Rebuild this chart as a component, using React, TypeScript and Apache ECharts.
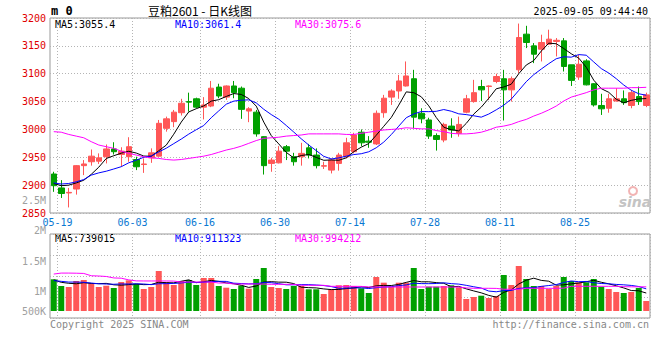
import React, { useEffect, useRef } from 'react';
import * as echarts from 'echarts';

const dates = [
  '05-16', '05-19', '05-20', '05-21', '05-22', '05-23', '05-26', '05-27', '05-28', '05-29', '05-30',
  '06-03', '06-04', '06-05', '06-06', '06-09', '06-10', '06-11', '06-12', '06-13',
  '06-16', '06-17', '06-18', '06-19', '06-20', '06-23', '06-24', '06-25', '06-26', '06-27',
  '06-30', '07-01', '07-02', '07-03', '07-04', '07-07', '07-08', '07-09', '07-10', '07-11',
  '07-14', '07-15', '07-16', '07-17', '07-18', '07-21', '07-22', '07-23', '07-24', '07-25',
  '07-28', '07-29', '07-30', '07-31', '08-01', '08-04', '08-05', '08-06', '08-07', '08-08',
  '08-11', '08-12', '08-13', '08-14', '08-15', '08-18', '08-19', '08-20', '08-21', '08-22',
  '08-25', '08-26', '08-27', '08-28', '08-29', '09-01', '09-02', '09-03', '09-04', '09-05',
];
const tickDates = ['05-19', '06-03', '06-16', '06-30', '07-14', '07-28', '08-11', '08-25'];

const opens = [
  2920, 2895, 2886, 2893, 2935, 2942, 2943, 2951, 2965, 2955,
  2951, 2946, 2937, 2949, 2952, 3002, 3014, 3030, 3050, 3055,
  3040, 3042, 3076, 3058, 3078, 3074, 3033, 3031, 2987, 2939,
  2940, 2969, 2951, 2951, 2967, 2954, 2934, 2927, 2939, 2951,
  2960, 2995, 2979, 2974, 3030, 3058, 3069, 3078, 3091, 3029,
  3017, 2989, 2981, 3006, 2993, 3031, 3050, 3077, 3077, 3086,
  3091, 3071, 3107, 3171, 3150, 3144, 3153, 3158, 3159, 3116,
  3094, 3123, 3082, 3043, 3038, 3051, 3055, 3043, 3059, 3043,
];
const closes = [
  2899, 2885, 2887, 2935, 2938, 2952, 2949, 2965, 2960, 2961,
  2969, 2933, 2938, 2958, 3011, 3019, 3031, 3047, 3049, 3040,
  3044, 3074, 3060, 3078, 3066, 3036, 3037, 2992, 2935, 2945,
  2961, 2961, 2942, 2957, 2954, 2935, 2935, 2945, 2954, 2976,
  2990, 2976, 2977, 3029, 3056, 3069, 3087, 3096, 3022, 3019,
  2988, 2982, 3009, 2999, 3009, 3055, 3066, 3071, 3078, 3095,
  3071, 3091, 3165, 3156, 3135, 3156, 3162, 3160, 3113, 3088,
  3117, 3080, 3044, 3037, 3055, 3055, 3048, 3066, 3050, 3062,
];
const lows = [
  2888, 2877, 2860, 2883, 2918, 2935, 2938, 2939, 2955, 2933,
  2942, 2927, 2922, 2940, 2951, 2996, 3004, 3025, 3032, 3038,
  3018, 3040, 3056, 3053, 3056, 3019, 3013, 2987, 2919, 2924,
  2939, 2945, 2935, 2935, 2948, 2930, 2929, 2921, 2926, 2948,
  2957, 2970, 2967, 2972, 3021, 3044, 3055, 3077, 3002, 3011,
  2983, 2962, 2977, 2985, 2987, 3029, 3048, 3051, 3053, 3083,
  3016, 3050, 3101, 3146, 3119, 3122, 3152, 3131, 3104, 3078,
  3089, 3079, 3041, 3026, 3030, 3050, 3044, 3038, 3044, 3040,
];
const highs = [
  2924, 2909, 2895, 2936, 2945, 2964, 2957, 2973, 2977, 2968,
  2986, 2951, 2948, 2966, 3017, 3023, 3035, 3055, 3066, 3057,
  3058, 3087, 3082, 3079, 3087, 3077, 3040, 3035, 2988, 2949,
  2970, 2972, 2958, 2976, 2974, 2966, 2942, 2948, 2958, 2985,
  2994, 3000, 2988, 3034, 3062, 3072, 3098, 3122, 3107, 3038,
  3021, 2993, 3012, 3020, 3023, 3062, 3089, 3089, 3079, 3100,
  3107, 3095, 3190, 3186, 3155, 3170, 3179, 3164, 3164, 3116,
  3134, 3126, 3083, 3064, 3064, 3074, 3070, 3071, 3077, 3066,
];

const ma5 = [
  2903, 2899, 2900, 2904, 2908.8, 2919.4, 2932.2, 2947.8, 2952.8, 2957.4,
  2960.8, 2957.6, 2952.2, 2951.8, 2961.8, 2971.8, 2991.4, 3013.2, 3031.4, 3037.2,
  3042.2, 3050.8, 3053.4, 3059.2, 3064.4, 3062.8, 3055.4, 3041.8, 3013.2, 2989.0,
  2974.0, 2958.8, 2948.8, 2953.2, 2955.0, 2949.8, 2944.6, 2945.2, 2944.6, 2949.0,
  2960.0, 2968.2, 2974.6, 2989.6, 3005.6, 3021.4, 3043.6, 3067.4, 3066.0, 3058.6,
  3042.4, 3021.4, 3004.0, 2999.4, 2997.4, 3010.8, 3027.6, 3040.0, 3055.8, 3073.0,
  3076.2, 3081.2, 3100.0, 3115.6, 3123.6, 3140.6, 3154.8, 3153.8, 3145.2, 3135.8,
  3128.0, 3111.6, 3088.4, 3073.2, 3066.6, 3054.2, 3047.8, 3052.2, 3054.8, 3055.4,
];
const ma10 = [
  2904, 2902, 2903, 2906, 2910, 2918, 2922, 2925, 2929, 2933.1,
  2940.1, 2944.9, 2950.0, 2952.3, 2959.6, 2966.3, 2974.5, 2982.7, 2991.6, 2999.5,
  3007.0, 3021.1, 3033.3, 3045.3, 3050.8, 3052.5, 3053.1, 3047.6, 3036.2, 3026.7,
  3018.4, 3007.1, 2995.3, 2983.2, 2972.0, 2961.9, 2951.7, 2947.0, 2948.9, 2952.0,
  2954.9, 2956.4, 2959.9, 2967.1, 2977.3, 2990.7, 3005.9, 3021.0, 3027.8, 3032.1,
  3031.9, 3032.5, 3035.7, 3032.7, 3028.0, 3026.6, 3024.5, 3022.0, 3027.6, 3035.2,
  3043.5, 3054.4, 3070.0, 3085.7, 3098.3, 3108.4, 3118.0, 3126.9, 3130.4, 3129.7,
  3134.3, 3133.2, 3121.1, 3109.2, 3101.2, 3091.1, 3079.7, 3070.3, 3064.0, 3061.4,
];
const ma30 = [
  2996, 2995, 2991, 2988, 2985, 2978, 2972, 2969, 2966, 2961,
  2957, 2954, 2951, 2949, 2948, 2946, 2945, 2946, 2948, 2950,
  2952, 2955, 2959, 2963, 2966, 2970, 2975, 2980, 2984, 2985,
  2986, 2988, 2989, 2990, 2992, 2992, 2992, 2992, 2992, 2991,
  2991, 2993, 2995, 2997, 2999, 3000, 3001, 3003, 3002, 3001,
  3001, 2998, 2996, 2993, 2992, 2992, 2993, 2995, 2999, 3004,
  3006, 3009, 3014, 3018, 3024, 3029, 3035, 3042, 3051, 3058,
  3062, 3066, 3071, 3074, 3074, 3074, 3074, 3075, 3075, 3075.6,
];

// volumes in thousands
const volumesK = [
  1304, 1029, 988, 1235, 1276, 1140, 988, 1041, 947, 1193,
  1263, 1111, 905, 988, 1646, 1181, 1070, 1235, 1276, 1070,
  1358, 1358, 1029, 959, 905, 1041, 918, 1317, 1770, 988,
  947, 905, 1029, 1029, 893, 893, 700, 893, 1058, 1070,
  1029, 934, 741, 1399, 1165, 1000, 1165, 1165, 1770, 905,
  1000, 1000, 1029, 1058, 975, 494, 576, 630, 535, 617,
  1481, 1070, 1852, 1317, 1029, 1029, 905, 1029, 1399, 1235,
  1181, 1181, 1317, 1000, 905, 782, 741, 782, 947, 412,
];
const volMa5K = [
  1280, 1180, 1140, 1120, 1166, 1134, 1125, 1136, 1078, 1062,
  1086, 1111, 1084, 1092, 1183, 1166, 1158, 1224, 1282, 1166,
  1202, 1259, 1218, 1155, 1122, 1058, 970, 1028, 1190, 1207,
  1188, 1185, 1128, 980, 961, 950, 909, 882, 887, 923,
  950, 997, 966, 1035, 1054, 1048, 1094, 1179, 1253, 1201,
  1201, 1168, 1141, 998, 1012, 911, 826, 747, 642, 570,
  768, 867, 1111, 1267, 1350, 1259, 1226, 1062, 1078, 1119,
  1150, 1205, 1263, 1183, 1117, 1037, 949, 842, 831, 739,
];
const volMa10K = [
  1250, 1220, 1190, 1190, 1180, 1150, 1120, 1110, 1100, 1114,
  1110, 1118, 1110, 1085, 1122, 1126, 1135, 1154, 1187, 1175,
  1184, 1209, 1221, 1218, 1144, 1130, 1115, 1123, 1173, 1164,
  1123, 1078, 1078, 1085, 1084, 1069, 1047, 1005, 934, 942,
  950, 953, 924, 961, 988, 999, 1045, 1073, 1144, 1127,
  1124, 1131, 1160, 1126, 1107, 1056, 997, 944, 820, 791,
  840, 847, 929, 955, 960, 1014, 1047, 1086, 1173, 1235,
  1205, 1216, 1162, 1131, 1118, 1093, 1077, 1052, 1007, 911,
];
const volMa30K = [
  1520, 1560, 1560, 1555, 1545, 1450, 1440, 1420, 1360, 1350,
  1280, 1240, 1236, 1236, 1235, 1235, 1230, 1195, 1193, 1193,
  1192, 1190, 1152, 1150, 1112, 1111, 1110, 1110, 1108, 1098,
  1098, 1097, 1096, 1058, 1058, 1057, 1056, 1016, 1016, 1015,
  1015, 1012, 990, 988, 988, 988, 988, 988, 988, 988,
  988, 988, 988, 987, 986, 950, 934, 934, 934, 930,
  895, 893, 893, 934, 934, 934, 934, 934, 940, 1016,
  1016, 1016, 1016, 1016, 1016, 1016, 1000, 995, 994, 994,
];

const priceTicks = [2850, 3200, 50];
const volTickValues = [500, 1000, 1500, 2000, 2500];
const volTickLabels = ['500K', '1M', '1.5M', '2M', '2.5M'];
const priceLegend = ['MA5:3055.4', 'MA10:3061.4', 'MA30:3075.6'];
const volLegend = ['MA5:739015', 'MA10:911323', 'MA30:994212'];
const maColors = ['#000000', '#0000ff', '#ff00ff'];
const codeText = 'm 0';
const titleText = '豆粕2601 - 日K线图';
const timeText = '2025-09-05 09:44:40';
const copyText = 'Copyright 2025 SINA.COM';
const urlText = 'http://finance.sina.com.cn';

const FONT = '"DejaVu Sans Mono", "Liberation Mono", monospace';
const RED = '#ff5757';
const GREEN = '#00a000';
const DOT = { color: '#b4b4b4', type: [1, 2] as any, width: 1 };

export default function App() {
  const ref = useRef<HTMLDivElement>(null);
  useEffect(() => {
    if (!ref.current) return;
    const chart = echarts.init(ref.current, undefined, { renderer: 'svg' });
    const isTick = (_i: number, v: string) => tickDates.includes(v);
    const legendX = [55, 175, 295];
    const option: any = {
      animation: false,
      grid: [
        { left: 50, top: 18, width: 600, height: 195, show: true, borderColor: '#999', borderWidth: 1 },
        { left: 50, top: 234, width: 600, height: 84, show: true, borderColor: '#999', borderWidth: 1 },
        { left: 50, top: 234, width: 600, height: 77 },
        { left: 50, top: 200, width: 600, height: 122 },
      ],
      xAxis: [
        {
          type: 'category', gridIndex: 0, data: dates, boundaryGap: true,
          axisLine: { show: false }, axisTick: { show: false },
          axisLabel: { interval: isTick, color: '#0a78d2', fontFamily: FONT, fontSize: 10, margin: 4, padding: [0, 7.5, 0, 0] },
          splitLine: { show: true, interval: isTick, lineStyle: DOT },
        },
        {
          type: 'category', gridIndex: 1, data: dates, boundaryGap: true,
          axisLine: { show: false }, axisTick: { show: false }, axisLabel: { show: false },
          splitLine: { show: true, interval: isTick, lineStyle: DOT },
        },
        { type: 'category', gridIndex: 2, data: dates, show: false },
        { type: 'category', gridIndex: 3, data: dates, show: false },
      ],
      yAxis: [
        {
          type: 'value', gridIndex: 0, min: priceTicks[0], max: priceTicks[1], interval: priceTicks[2],
          axisLine: { show: false }, axisTick: { show: false },
          axisLabel: { color: '#e00000', fontFamily: FONT, fontSize: 10, margin: 4, formatter: (v: number) => String(v) },
          splitLine: { show: true, lineStyle: DOT },
        },
        {
          type: 'value', gridIndex: 1, min: 0, max: 4, interval: 1,
          axisLine: { show: false }, axisTick: { show: false }, axisLabel: { show: false },
          splitLine: { show: true, lineStyle: DOT },
        },
        { type: 'value', gridIndex: 2, min: 0, max: 3168, show: false },
        {
          type: 'value', gridIndex: 3, min: volTickValues[0], max: volTickValues[volTickValues.length - 1], interval: 500,
          axisLine: { show: false }, axisTick: { show: false }, splitLine: { show: false },
          axisLabel: {
            color: '#a0a0a0', fontFamily: FONT, fontSize: 10, margin: 4,
            formatter: (v: number) => {
              const k = volTickValues.indexOf(v);
              const t = k >= 0 ? volTickLabels[k] : '';
              return k === 0 ? '{s|' + t + '}' : t;
            },
            rich: { s: { color: '#a0a0a0', fontFamily: FONT, fontSize: 10, padding: [0, 0, 22, 0] } },
          },
        },
      ],
      series: [
        {
          type: 'candlestick', xAxisIndex: 0, yAxisIndex: 0, barWidth: 6,
          data: dates.map((_, i) => [opens[i], closes[i], lows[i], highs[i]]),
          itemStyle: { color: RED, color0: GREEN, borderColor: RED, borderColor0: GREEN, borderWidth: 1 },
        },
        ...[ma5, ma10, ma30].map((d, k) => ({
          type: 'line', xAxisIndex: 0, yAxisIndex: 0, data: d, symbol: 'none',
          lineStyle: { color: maColors[k], width: 1 }, silent: true,
        })),
        {
          type: 'bar', xAxisIndex: 2, yAxisIndex: 2, barWidth: 6,
          data: volumesK.map((v, i) => ({ value: v, itemStyle: { color: closes[i] >= opens[i] ? RED : GREEN } })),
        },
        ...[volMa5K, volMa10K, volMa30K].map((d, k) => ({
          type: 'line', xAxisIndex: 2, yAxisIndex: 2, data: d, symbol: 'none',
          lineStyle: { color: maColors[k], width: 1 }, silent: true,
        })),
      ],
      graphic: [
        { type: 'text', x: 51, y: 11, style: { text: codeText, fill: '#000', font: 'bold 12px ' + FONT, textVerticalAlign: 'middle' } },
        { type: 'text', x: 200, y: 10, style: { text: titleText, fill: '#000', font: '12px "Noto Sans CJK SC"', textAlign: 'center', textVerticalAlign: 'middle' } },
        { type: 'text', x: 648, y: 11, style: { text: timeText, fill: '#000', font: '10px ' + FONT, textAlign: 'right', textVerticalAlign: 'middle' } },
        ...priceLegend.map((t, k) => ({
          type: 'text', x: legendX[k], y: 24, style: { text: t, fill: maColors[k], font: '10px ' + FONT, textVerticalAlign: 'middle' },
        })),
        ...volLegend.map((t, k) => ({
          type: 'text', x: legendX[k], y: 238, style: { text: t, fill: maColors[k], font: '10px ' + FONT, textVerticalAlign: 'middle' },
        })),
        { type: 'text', x: 50, y: 324, style: { text: copyText, fill: '#888', font: '10px ' + FONT, textVerticalAlign: 'middle' } },
        { type: 'text', x: 649, y: 324, style: { text: urlText, fill: '#888', font: '10px ' + FONT, textAlign: 'right', textVerticalAlign: 'middle' } },
        { type: 'circle', shape: { cx: 633, cy: 191, r: 4 }, style: { fill: 'none', stroke: '#f2b4b4', lineWidth: 2 }, z: 10 },
        { type: 'text', x: 635, y: 202, style: { text: 'sina', fill: '#c4c4c4', font: 'italic bold 14px "DejaVu Sans"', textAlign: 'center', textVerticalAlign: 'middle' }, z: 10 },
      ],
    };
    chart.setOption(option);
    return () => chart.dispose();
  }, []);
  return <div ref={ref} style={{ position: 'absolute', left: 0, top: 0, width: 660, height: 360 }} />;
}
